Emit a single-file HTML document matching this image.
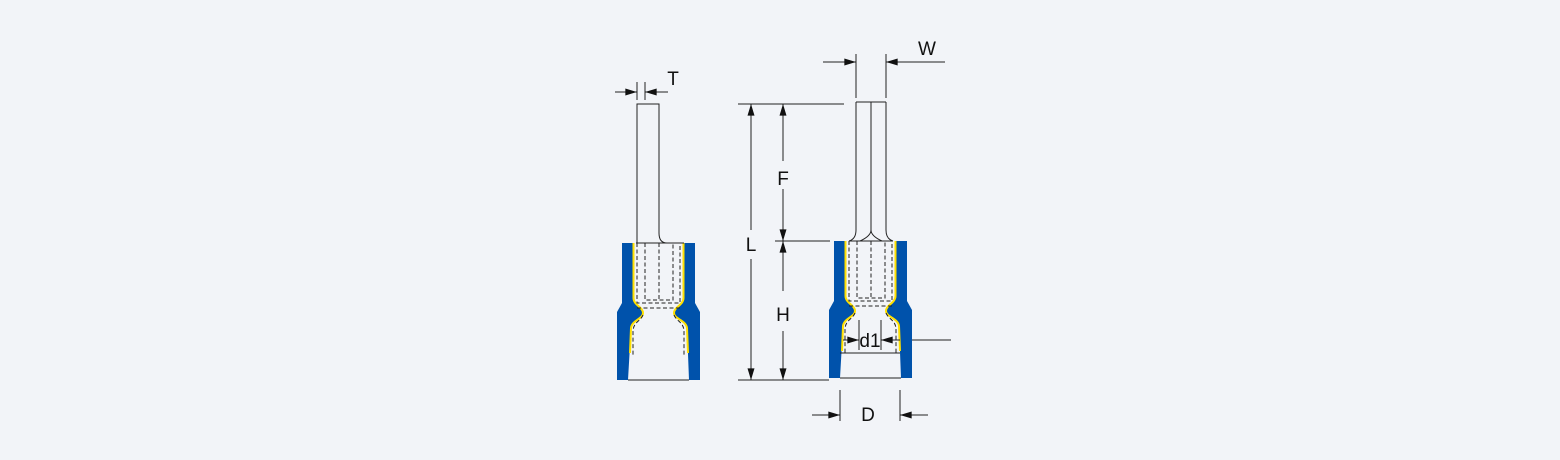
<!DOCTYPE html>
<html><head><meta charset="utf-8"><style>
html,body{margin:0;padding:0;background:#f2f4f8;}
svg{display:block;}
text{font-family:"Liberation Sans",Arial,sans-serif;font-size:19px;fill:#111;}
</style></head><body>
<svg width="1560" height="460" viewBox="0 0 1560 460" xmlns="http://www.w3.org/2000/svg">
<defs>
<marker id="a" viewBox="0 0 10 6" refX="10" refY="3" markerWidth="14" markerHeight="7" markerUnits="userSpaceOnUse" orient="auto"><path d="M0,0 L10,3 L0,6 z" fill="#111"/></marker>
<g id="term">
  <path d="M622,243 L633,243 L633,298 C633,305 643,307 643,313 C643,319 632,320 631,328 L628,380 L617,380 L617,312 L622,303 Z" fill="#0052ab"/>
  <path d="M695,243 L684,243 L684,298 C684,305 674,307 674,313 C674,319 686,320 687,328 L689,380 L700,380 L700,312 L695,303 Z" fill="#0052ab"/>
  <path d="M633.5,243 L633.5,298 C633.5,305 643,307 643,313 C643,319 632,320 631,328 L630,353" fill="none" stroke="#ffe000" stroke-width="2"/>
  <path d="M683.5,243 L683.5,298 C683.5,305 674,307 674,313 C674,319 686,320 687,328 L688,353" fill="none" stroke="#ffe000" stroke-width="2"/>
  <line x1="628" y1="380" x2="689" y2="380" stroke="#222" stroke-width="1"/>
  <g fill="none" stroke="#222" stroke-width="1" stroke-dasharray="4,2.5">
    <path d="M637,243 L637,303 L680,303 L680,243"/>
    <path d="M645,243 L645,300 L673,300 L673,243"/>
    <line x1="659" y1="243" x2="659" y2="300"/>
    <line x1="637" y1="308" x2="680" y2="308"/>
    <path d="M643,315 C640,322 633,322 633,332 L633,356"/>
    <path d="M674,315 C677,322 684,322 684,332 L684,356"/>
  </g>
</g>
</defs>

<!-- dimension lines (under shapes) -->
<g stroke="#222" stroke-width="1" fill="none">
  <line x1="637" y1="82" x2="637" y2="100"/>
  <line x1="645" y1="82" x2="645" y2="100"/>
  <line x1="615" y1="92" x2="637" y2="92" marker-end="url(#a)"/>
  <line x1="668" y1="92" x2="645" y2="92" marker-end="url(#a)"/>
  <line x1="856" y1="54" x2="856" y2="98"/>
  <line x1="886" y1="54" x2="886" y2="98"/>
  <line x1="823" y1="62" x2="856" y2="62" marker-end="url(#a)"/>
  <line x1="945" y1="62" x2="886" y2="62" marker-end="url(#a)"/>
  <line x1="738" y1="104" x2="844" y2="104"/>
  <line x1="775" y1="241" x2="830" y2="241"/>
  <line x1="738" y1="380" x2="829" y2="380"/>
  <line x1="751" y1="230" x2="751" y2="104" marker-end="url(#a)"/>
  <line x1="751" y1="259" x2="751" y2="380" marker-end="url(#a)"/>
  <line x1="783" y1="161" x2="783" y2="104" marker-end="url(#a)"/>
  <line x1="783" y1="189" x2="783" y2="241" marker-end="url(#a)"/>
  <line x1="783" y1="291" x2="783" y2="241" marker-end="url(#a)"/>
  <line x1="783" y1="331" x2="783" y2="380" marker-end="url(#a)"/>
  <line x1="840" y1="390" x2="840" y2="421"/>
  <line x1="900" y1="390" x2="900" y2="421"/>
  <line x1="812" y1="415" x2="840" y2="415" marker-end="url(#a)"/>
  <line x1="928" y1="415" x2="900" y2="415" marker-end="url(#a)"/>
  <line x1="900" y1="340" x2="951" y2="340"/>
</g>

<use href="#term"/>
<path d="M637,243 L637,104 L659,104 L659,233 Q659,243 667,243" fill="none" stroke="#222" stroke-width="1"/>
<line x1="636" y1="243" x2="684" y2="243" stroke="#222" stroke-width="1"/>

<use href="#term" transform="translate(212,-2)"/>
<g fill="none" stroke="#222" stroke-width="1">
  <path d="M856,102 L886,102 M856,102 L856,230 Q856,239 849,241 M886,102 L886,230 Q886,239 893,241"/>
  <path d="M871,102 L871,230 Q871,236 860,241 M871,230 Q871,236 882,241"/>
  <line x1="849" y1="241" x2="893" y2="241"/>
  <line x1="840" y1="353" x2="900" y2="353"/>
</g>

<g stroke="#222" stroke-width="1" fill="none">
  <line x1="859" y1="320" x2="859" y2="350"/>
  <line x1="881" y1="320" x2="881" y2="350"/>
  <line x1="843" y1="340" x2="859" y2="340" marker-end="url(#a)"/>
  <line x1="900" y1="340" x2="881" y2="340" marker-end="url(#a)"/>
</g>

<text x="673" y="85" text-anchor="middle">T</text>
<text x="927" y="55" text-anchor="middle">W</text>
<text x="783" y="185" text-anchor="middle">F</text>
<text x="751" y="251" text-anchor="middle">L</text>
<text x="783" y="321" text-anchor="middle">H</text>
<text x="870" y="347" text-anchor="middle">d1</text>
<text x="868" y="421" text-anchor="middle">D</text>
</svg>
</body></html>
